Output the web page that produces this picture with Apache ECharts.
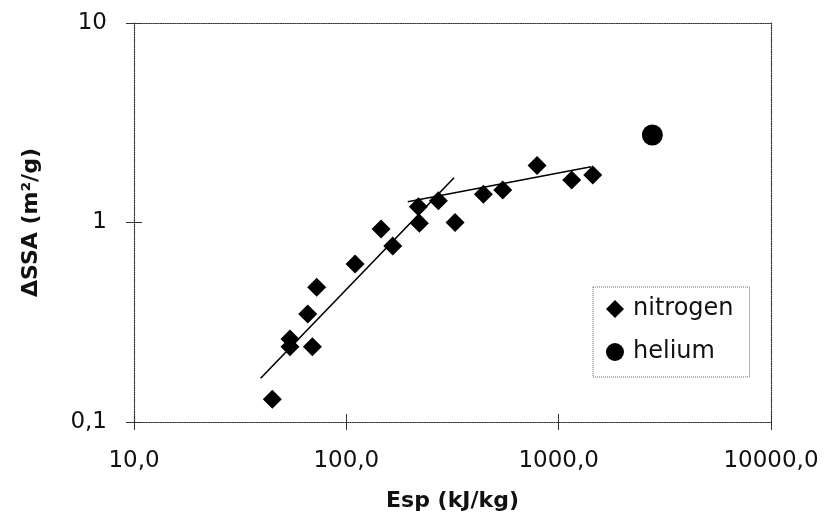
<!DOCTYPE html>
<html>
<head>
<meta charset="utf-8">
<script src="https://cdn.jsdelivr.net/npm/echarts@6/dist/echarts.min.js"></script>
<style>html,body{margin:0;padding:0;background:#fff}#c{width:829px;height:525px}</style>
</head>
<body>
<div id="c"></div>
<script>
// Data
var nitrogenEsp = [44.8, 54.3, 54.3, 69.2, 65.8, 72.5, 109.9, 165.4, 145.7, 220.8, 218.4, 271.3, 325.1, 441.9, 545.5, 791, 1152, 1447];
var nitrogenSSA = [0.130, 0.261, 0.238, 0.238, 0.348, 0.473, 0.619, 0.762, 0.928, 0.991, 1.20, 1.286, 1.00, 1.385, 1.456, 1.931, 1.633, 1.730];
var heliumEsp = [2762];
var heliumSSA = [2.746];
var trend1Esp = [39.5, 321.6];
var trend1SSA = [0.1656, 1.677];
var trend2Esp = [194.7, 1421];
var trend2SSA = [1.271, 1.905];
var xTickLabels = {10: '10,0', 100: '100,0', 1000: '1000,0', 10000: '10000,0'};
var yTickLabels = {0.1: '0,1', 1: '1', 10: '10'};

function zip(a, b) { return a.map(function (v, i) { return [v, b[i]]; }); }

var font = '"DejaVu Sans", Arial, sans-serif';
var axisCol = '#333';

var chart = echarts.init(document.getElementById('c'), null, {renderer: 'canvas'});
chart.setOption({
  animation: false,
  backgroundColor: '#fff',
  grid: {left: 134, top: 23, right: 58, bottom: 103},
  legend: {
    data: [{name: 'nitrogen', icon: 'diamond'}, {name: 'helium', icon: 'circle'}],
    orient: 'vertical',
    left: 593, top: 287,
    padding: [10, 16, 13, 13],
    itemWidth: 18, itemHeight: 18,
    itemGap: 19,
    borderColor: '#666', borderWidth: 1, borderType: 'dotted',
    textStyle: {fontFamily: font, fontSize: 24, color: '#111', padding: [0, 0, 0, 4]}
  },
  xAxis: [{
    type: 'log', logBase: 10, min: 10, max: 10000,
    position: 'bottom',
    name: 'Esp (kJ/kg)', nameLocation: 'middle', nameGap: 68,
    nameTextStyle: {fontFamily: font, fontSize: 22, fontWeight: 'bold', color: '#111'},
    axisLine: {show: true, lineStyle: {color: axisCol, width: 1.2, type: 'dotted'}},
    axisTick: {show: true, length: 8, lineStyle: {color: axisCol}},
    minorTick: {show: false},
    splitLine: {show: false},
    axisLabel: {margin: 28, fontFamily: font, fontSize: 23, color: '#111',
      formatter: function (v) { return xTickLabels[Math.round(v)] || ''; }}
  }, {
    type: 'log', logBase: 10, min: 10, max: 10000,
    position: 'bottom',
    axisLine: {show: false},
    axisTick: {show: true, inside: true, length: 8, lineStyle: {color: axisCol}},
    axisLabel: {show: false}, splitLine: {show: false}
  }, {
    type: 'log', logBase: 10, min: 10, max: 10000,
    position: 'top',
    axisLine: {show: true, lineStyle: {color: axisCol, width: 1.2, type: 'dotted'}},
    axisTick: {show: false}, axisLabel: {show: false}, splitLine: {show: false}
  }],
  yAxis: [{
    type: 'log', logBase: 10, min: 0.1, max: 10,
    position: 'left',
    name: 'ΔSSA (m²/g)', nameLocation: 'middle', nameGap: 92, nameRotate: 90,
    nameTextStyle: {fontFamily: font, fontSize: 22, fontWeight: 'bold', color: '#111'},
    axisLine: {show: true, lineStyle: {color: axisCol, width: 1.2, type: 'dotted'}},
    axisTick: {show: true, length: 8, lineStyle: {color: axisCol}},
    splitLine: {show: false},
    axisLabel: {margin: 27, fontFamily: font, fontSize: 23, color: '#111',
      formatter: function (v) {
        var k = v < 0.5 ? 0.1 : (v < 5 ? 1 : 10);
        return yTickLabels[k];
      }}
  }, {
    type: 'log', logBase: 10, min: 0.1, max: 10,
    position: 'left',
    axisLine: {show: false},
    axisTick: {show: true, inside: true, length: 8, lineStyle: {color: axisCol}},
    axisLabel: {show: false}, splitLine: {show: false}
  }, {
    type: 'log', logBase: 10, min: 0.1, max: 10,
    position: 'right',
    axisLine: {show: true, lineStyle: {color: axisCol, width: 1.2, type: 'dotted'}},
    axisTick: {show: false}, axisLabel: {show: false}, splitLine: {show: false}
  }],
  series: [{
    name: 'trend1', type: 'line', data: zip(trend1Esp, trend1SSA),
    symbol: 'none', lineStyle: {color: '#000', width: 1.6}, silent: true, z: 1
  }, {
    name: 'trend2', type: 'line', data: zip(trend2Esp, trend2SSA),
    symbol: 'none', lineStyle: {color: '#000', width: 1.6}, silent: true, z: 1
  }, {
    name: 'nitrogen', type: 'scatter', data: zip(nitrogenEsp, nitrogenSSA),
    symbol: 'diamond', symbolSize: 19, itemStyle: {color: '#000', opacity: 1}, z: 3
  }, {
    name: 'helium', type: 'scatter', data: zip(heliumEsp, heliumSSA),
    symbol: 'circle', symbolSize: 21, itemStyle: {color: '#000', opacity: 1}, z: 3
  }]
});
</script>
</body>
</html>
